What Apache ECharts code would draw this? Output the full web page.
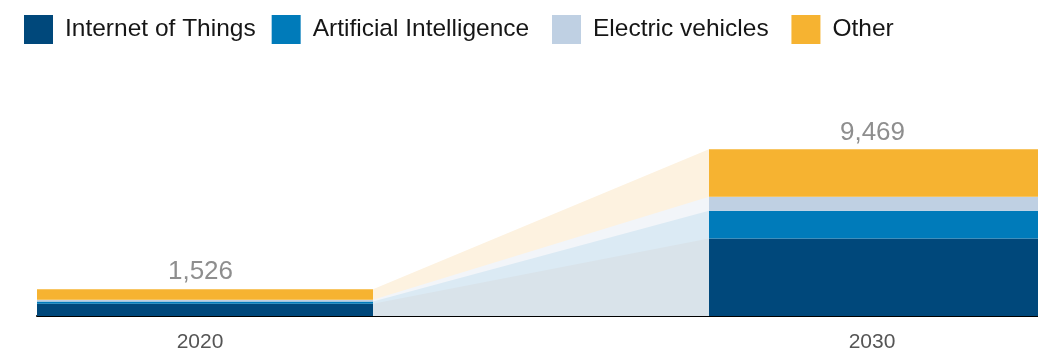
<!DOCTYPE html>
<html>
<head>
<meta charset="utf-8">
<title>Growth by segment, 2020 vs 2030</title>
<script src="https://cdn.jsdelivr.net/npm/echarts@6/dist/echarts.min.js"></script>
<style>
  html, body { margin: 0; padding: 0; background: #fff; }
  #chart { width: 1038px; height: 352px; }
</style>
</head>
<body>
<div id="chart"></div>
<script>
// Years shown on the axis; the empty middle slot holds the connecting bands.
const years = ['2020', '', '2030'];
const seriesNames = ['Internet of Things', 'Artificial Intelligence', 'Electric vehicles', 'Other'];

// Values for 2020 and 2030 per segment
const iot   = [690, 4400];
const ai    = [130, 1580];
const ev    = [110, 800];
const other = [596, 2689];

const barColors  = ['#00487b', '#007bba', '#bfd0e3', '#f6b331'];
const bandColors = ['#d9e3ea', '#dbeaf4', '#f2f5f9', '#fdf2e0'];
const FONT = "'Liberation Sans Narrow', 'Liberation Sans', Arial, sans-serif";

// Extra space after each legend label
const legendTrailing = [0, 15, 2, 0];

const segments = [iot, ai, ev, other];
const totals = [0, 1].map(i => segments.reduce((s, arr) => s + arr[i], 0));

// Running tops of each segment, used for the connecting bands
const cumulative = segments.map((_, k) =>
  [0, 1].map(i => segments.slice(0, k + 1).reduce((s, arr) => s + arr[i], 0)));

// Spread a [2020, 2030] pair across the three category slots
const toSlots = pair => [pair[0], '-', pair[1]];

const barSeries = segments.map((vals, k) => ({
  name: seriesNames[k],
  type: 'bar',
  stack: 'bars',
  xAxisIndex: 0,
  yAxisIndex: 0,
  barWidth: '100%',
  barCategoryGap: 0,
  z: 3,
  itemStyle: { color: barColors[k] },
  data: toSlots(vals),
  label: k === segments.length - 1 ? {
    show: true,
    position: 'top',
    distance: 4,
    padding: [0, 9, 0, 0],
    fontFamily: FONT,
    fontSize: 26,
    color: '#8e8e8e',
    formatter: p => totals[p.dataIndex === 0 ? 0 : 1].toLocaleString('en-US')
  } : { show: false }
}));

// Bands joining the right edge of 2020 to the left edge of 2030.
// Drawn from the top segment down so each lower band paints over the one above.
const bandSeries = segments.map((_, k) => k).reverse().map(k => ({
  name: seriesNames[k] + ' trend',
  type: 'line',
  xAxisIndex: 1,
  yAxisIndex: 0,
  symbol: 'none',
  silent: true,
  z: 1,
  lineStyle: { width: 0, opacity: 0 },
  areaStyle: { color: bandColors[k], opacity: 1 },
  data: [[1, cumulative[k][0]], [2, cumulative[k][1]]]
}));

// Spacer styles for the legend labels
const legendRich = {};
legendTrailing.forEach(w => { if (w > 0) legendRich['g' + w] = { width: w }; });

const chart = echarts.init(document.getElementById('chart'), null, { renderer: 'canvas' });
chart.setOption({
  animation: false,
  backgroundColor: '#ffffff',
  legend: {
    data: seriesNames,
    left: 24,
    top: 15,
    padding: 0,
    icon: 'rect',
    itemWidth: 29,
    itemHeight: 29,
    itemGap: 16,
    formatter: name => {
      const w = legendTrailing[seriesNames.indexOf(name)];
      return w > 0 ? name + '{g' + w + '| }' : name;
    },
    textStyle: {
      fontFamily: FONT,
      fontSize: 24.5,
      color: '#161616',
      padding: [0, 0, 0, 7],
      rich: legendRich
    }
  },
  grid: { left: 37, top: 140, width: 1008, bottom: 36, containLabel: false, outerBoundsMode: 'none' },
  xAxis: [
    {
      type: 'category',
      data: years,
      boundaryGap: true,
      axisLine: { show: true, lineStyle: { color: '#000000', width: 2 } },
      axisTick: { show: false },
      axisLabel: {
        fontFamily: FONT,
        fontSize: 21,
        color: '#555555',
        margin: 16,
        padding: [0, 10, 0, 0]
      },
      splitLine: { show: false }
    },
    {
      type: 'value',
      min: 0,
      max: 3,
      show: false
    }
  ],
  yAxis: {
    type: 'value',
    min: 0,
    max: 10000,
    show: false
  },
  series: [...bandSeries, ...barSeries]
});
</script>
</body>
</html>
